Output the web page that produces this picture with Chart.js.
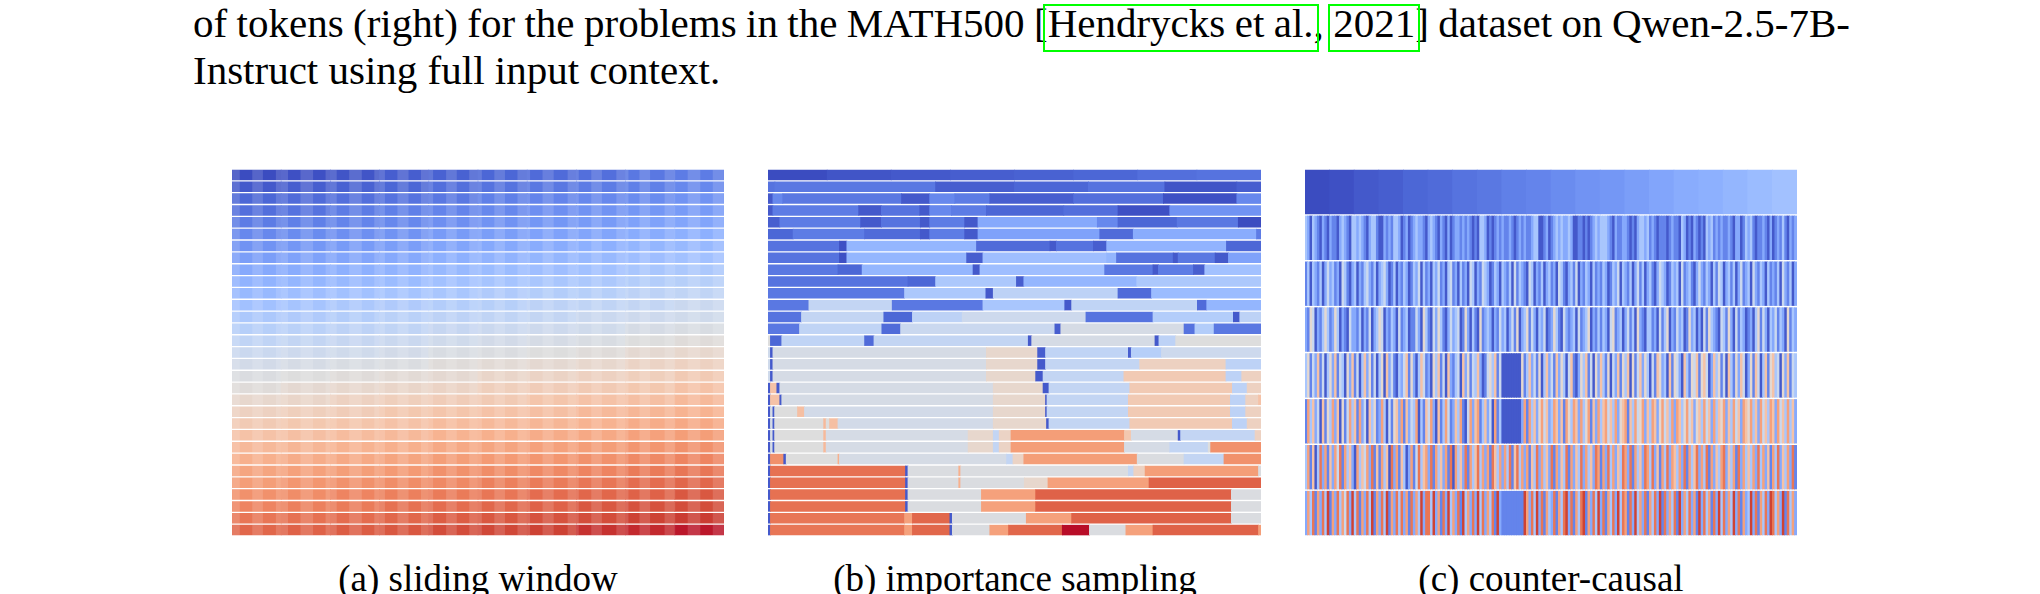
<!DOCTYPE html>
<html>
<head>
<meta charset="utf-8">
<script src="https://cdn.jsdelivr.net/npm/chart.js@4.4.1/dist/chart.umd.min.js"></script>
<style>
html, body { margin: 0; padding: 0; background: #fff; }
body { width: 2040px; height: 594px; position: relative; overflow: hidden;
       font-family: "Liberation Serif", "Times New Roman", serif; color: #000; }
.txt { position: absolute; white-space: nowrap; line-height: 1; }
.body { left: 193px; font-size: 41px; }
.cap { font-size: 37px; transform: translateX(-50%); }
.box { position: absolute; border: 2px solid #00ff00; box-sizing: border-box; }
canvas { position: absolute; }
</style>
</head>
<body>

<div class="txt body" id="line1" style="top:2.7px">of tokens (right) for the problems in the MATH500 [<span class="cite">Hendrycks et al.</span>, <span class="cite">2021</span>] dataset on Qwen-2.5-7B-</div>
<div class="txt body" style="top:49.7px">Instruct using full input context.</div>

<canvas id="sliding" width="492" height="367" style="left:232px;top:169px"></canvas>
<canvas id="importance" width="493" height="367" style="left:768px;top:169px"></canvas>
<canvas id="counter" width="492" height="367" style="left:1305px;top:169px"></canvas>

<div class="txt cap" style="left:478px;top:560px">(a) sliding window</div>
<div class="txt cap" style="left:1015px;top:560px">(b) importance sampling</div>
<div class="txt cap" style="left:1551px;top:560px">(c) counter-causal</div>

<script>
// values are positions on the coolwarm colormap, 0 (blue) .. 100 (red)

// (a) sliding window: 31 rows, equal-width columns
const slidingRows = [
  [0,1,2,4,5,6,7,8,10,11],
  [3,4,5,6,8,9,10,11,12,14],
  [6,7,8,9,10,12,13,14,15,17],
  [8,9,11,12,13,14,16,17,18,19],
  [11,12,13,14,16,17,18,19,21,22],
  [14,15,16,17,19,20,21,22,24,25],
  [17,18,19,20,22,23,24,25,27,28],
  [20,21,22,23,25,26,27,28,30,31],
  [23,24,25,26,28,29,30,31,33,34],
  [26,27,28,29,31,32,33,34,36,37],
  [28,30,31,32,33,35,36,37,39,40],
  [31,32,34,35,36,37,39,40,41,43],
  [34,35,36,38,39,40,41,43,44,45],
  [37,38,39,40,42,43,44,45,47,48],
  [40,41,42,43,45,46,47,48,50,51],
  [43,44,45,46,48,49,50,51,53,54],
  [46,47,48,49,51,52,53,54,56,57],
  [49,50,51,52,53,55,56,57,58,60],
  [51,53,54,55,56,58,59,60,61,63],
  [54,55,57,58,59,60,62,63,64,66],
  [57,58,59,61,62,63,64,66,67,68],
  [60,61,62,63,65,66,67,68,70,71],
  [63,64,65,66,68,69,70,71,73,74],
  [66,67,68,69,71,72,73,74,76,77],
  [69,70,71,72,74,75,76,77,79,80],
  [72,73,74,75,77,78,79,80,82,83],
  [74,76,77,78,79,81,82,83,85,86],
  [77,78,80,81,82,83,85,86,87,89],
  [80,81,82,84,85,86,87,89,90,91],
  [83,84,85,86,88,89,90,91,93,94],
  [86,87,88,89,91,92,93,95,96,98]
];

// (a) lighter token-column bands seen in every row, [start, end] in % of width
const slidingStripeGroups = [
  [0.1,1.5],[4.2,6.2],[9.0,11.3],[14.0,16.4],[19.1,21.2],[23.9,26.3],[29.0,31.0],
  [33.7,35.8],[38.5,40.8],[43.6,45.6],[48.3,50.7],[53.4,55.4],[58.1,60.5],[63.2,65.3],
  [68.3,70.4],[73.1,75.1],[78.2,80.5],[82.9,84.9],[88.0,90.0],[92.7,95.1],[97.8,99.9]
];

// (b) importance sampling: 31 rows of [segment end (% of width), value]
const importanceRows = [
  [[12,0],[25,2],[37,3],[50,4],[62,5],[75,6],[87,8],[100,9]],
  [[1.4,9],[34,10],[50,4],[65,6],[80.5,9],[95.1,2],[100,4]],
  [[1,3],[3,14],[27.1,10],[32.8,3],[37.9,14],[45,11],[62,4],[80.2,8],[95.1,1],[100,14]],
  [[1,3],[18.4,11],[23,3],[30.8,9],[32.8,3],[37.2,14],[44.3,11],[60,6],[71,8],[81.5,1],[100,17]],
  [[2.4,4],[18.8,11],[23,3],[30.9,9],[32.8,3],[39.9,11],[42.6,3],[66.8,23],[71,14],[83,6],[95.4,10],[100,0]],
  [[5.1,6],[19.6,11],[30.9,7],[32.8,3],[39.9,11],[42.6,3],[67.3,21],[74.1,7],[99.1,24],[100,11]],
  [[14.5,9],[16,1],[42.3,27],[57.2,7],[58.5,3],[66,9],[68.7,4],[93,26],[100,6]],
  [[14.5,9],[16,1],[40.3,27],[43.6,4],[68.7,30],[70.7,27],[82.2,9],[83.2,3],[90.7,10],[93.4,3],[100,21]],
  [[14.2,10],[19.1,6],[41.6,27],[43,3],[68.3,30],[78.1,10],[79.2,3],[86.3,11],[88.6,4],[100,31]],
  [[28.4,9],[34,6],[50.4,34],[51.9,4],[74.8,27],[100,34]],
  [[27.7,10],[44.2,34],[45.7,3],[71,39],[77.8,7],[100,29]],
  [[8.3,10],[25.2,41],[43.6,10],[60.2,33],[61.6,3],[87.1,40],[89,7],[100,27]],
  [[6.8,9],[23.5,41],[29.3,6],[39.4,39],[64.5,44],[78.1,9],[94.4,36],[95.7,3],[100,39]],
  [[6.4,10],[23.1,40],[26.9,7],[58.2,43],[59.4,4],[84.4,47],[86.6,9],[90.5,36],[100,10]],
  [[0.5,50],[2.8,6],[19.6,40],[21.5,7],[52.8,41],[53.5,3],[78.5,47],[79.3,3],[82.7,39],[100,50]],
  [[0.5,45],[1,3],[44.3,47],[54.7,54],[56.3,4],[73.1,40],[73.7,4],[79.8,37],[100,44]],
  [[0.5,45],[1,3],[44.3,47],[54.7,54],[56.3,3],[75.4,41],[92.9,57],[100,39]],
  [[0.5,45],[1,3],[44.3,47],[54.3,54],[55.8,3],[72.2,41],[92.9,60],[96.1,39],[100,57]],
  [[0.5,3],[1.8,63],[2.4,3],[45.7,47],[55.8,54],[57,3],[73.4,41],[94.2,60],[97.2,39],[100,57]],
  [[0.5,3],[2.4,63],[2.8,3],[45.7,47],[56.3,54],[56.6,3],[73.1,41],[93.8,60],[96.9,39],[99.5,57],[100,63]],
  [[0.5,3],[1,47],[1.35,3],[6,50],[7.4,64],[45.7,46],[56.3,54],[56.6,3],[73.1,41],[93.8,60],[96.9,39],[100,57]],
  [[0.5,3],[1,47],[1.35,3],[11.3,50],[11.8,66],[12.5,50],[14.2,64],[45.7,46],[56.5,54],[57,3],[73.4,41],[94.2,60],[97.2,39],[100,57]],
  [[0.5,3],[1,47],[1.35,3],[11.3,50],[11.8,66],[40.6,47],[45.7,54],[46.9,41],[49.3,56],[72.3,74],[73.7,61],[83.2,47],[83.7,3],[98.8,41],[100,57]],
  [[0.5,3],[1,47],[1.35,3],[11.3,50],[11.8,66],[40.6,47],[45.7,54],[46.9,41],[49.3,56],[72.3,74],[81.5,47],[89.3,41],[89.8,50],[100,77]],
  [[0.5,3],[3.2,77],[3.7,3],[14.2,50],[14.5,69],[48.4,47],[49.7,41],[51.9,56],[74.9,74],[84.4,49],[92.5,41],[100,77]],
  [[0.5,3],[27.9,84],[28.4,3],[38.7,49],[39.1,69],[73.1,49],[74.2,41],[76.5,57],[99.5,74],[100,49]],
  [[0.5,3],[27.9,84],[28.4,3],[38.7,49],[39.1,69],[52,49],[56.8,54],[77.3,73],[100,87]],
  [[0.5,3],[27.9,84],[28.4,3],[43.3,49],[54.3,73],[94,87],[100,49]],
  [[0.5,3],[27.9,84],[28.4,3],[43.3,49],[54.3,73],[94,87],[100,49]],
  [[0.5,3],[27.7,83],[29.3,73],[36.9,86],[37.4,3],[52.4,49],[61.6,73],[94,87],[100,49]],
  [[0.5,3],[27.7,83],[29.3,73],[36.9,86],[37.4,3],[45,49],[48.8,73],[59.7,86],[65.2,99],[72.6,49],[78.1,73],[99.5,87],[100,74]]
];

// (c) counter-causal: first row, equal-width columns
const counterTop = [0,1,3,4,6,7,9,10,12,13,15,17,18,20,22,24,25,27,29,31];

// (c) remaining rows: one digit per column, digit d -> value d*10+3
const counterRows = [
  "3203210210 2110232103 3232102331 0021213320 1201232210 2321021020 1221212101 0332010121 2112101212 1123300120" +
  "1232322320 0110101232 3332102112 2101023323 1210111012 1103201021 0103231212 1121022013 2310112102 0121310212",
  "1303213024 2312043102 3021342130 2342013021 3201324031 2032412034 1203120430 2143201320 3213041321 0430213023" +
  "1204310231 4021320312 1320132403 2130241302 3102432013 2304123102 4213203143 0231302412 3042132031 2130421302",
  "2154021353 1253021042 2130214023 5402132041 2301142053 1042531024 2340152031 0512320214 2302415023 5142032401" +
  "2531042123 0412350213 1320451230 2413052103 3120413502 1423015230 2041532104 3152041320 1203514203 2413205132",
  "3514261403 5261430526 1403625140 3506241032 4615203641 2053614062 1340625143 6201453614 0000000051 3624150362" +
  "4162530461 0253614052 6315042615 3605146253 0416523061 5420631546 1564026351 4063152640 2516403615 6340526143",
  "1736240615 3726051473 6172406351 2730415627 1624370316 4720613741 2637104726 7136240713 0000000027 1736257462" +
  "3762617537 6273571627 3674637256 7163745726 3762574637 2763574625 6374627365 7263746276 5736274637 6274637362",
  "3716038271 6274817362 0736472816 1736082716 3027148367 2817362718 0736281736 8372718637 2738168372 7163827362" +
  "8172638172 6382736287 1728372638 7281736287 3826173827 6372817368 2738172637 8263718273 6372837261 7382637281",
  "2738172839 1728374829 3817283917 2839172838 2718273928 8392718293 7281937282 9382738192 1111111119 7283928173" +
  "2817389281 7389172839 2817382938 7182937281 7382918273 8192738271 9283718293 8273928172 3928173829 8372918372"
];

const coolwarmStops = [
  [59,76,192],[77,104,215],[98,130,234],[119,154,247],[141,176,254],[163,194,255],
  [184,208,249],[204,217,238],[221,221,221],[236,211,196],[245,196,169],[247,177,142],
  [244,154,116],[236,127,92],[222,96,70],[203,62,50],[180,4,38]
];

function coolwarm(v) {
  v = Math.max(0, Math.min(1, v));
  const p = v * (coolwarmStops.length - 1);
  const i = Math.min(Math.floor(p), coolwarmStops.length - 2);
  const t = p - i;
  const a = coolwarmStops[i], b = coolwarmStops[i + 1];
  const c = a.map((x, k) => Math.round(x + (b[k] - x) * t));
  return 'rgb(' + c.join(',') + ')';
}

function evenSegments(values) {
  const w = 100 / values.length;
  return values.map((v, i) => [(i + 1) * w, v]);
}

function drawPanel(id, rows, barPct, overlay) {
  const labels = rows.map((_, i) => 'row' + (i + 1));
  const data = [];
  const colors = [];
  rows.forEach((segs, i) => {
    let start = 0;
    segs.forEach(([end, v]) => {
      data.push({x: [start, end], y: labels[i]});
      colors.push(coolwarm(v / 100));
      start = end;
    });
  });

  const common = {
    borderWidth: 0,
    borderSkipped: false,
    barPercentage: barPct,
    categoryPercentage: 1,
    grouped: false
  };
  const datasets = [Object.assign({data: data, backgroundColor: colors, inflateAmount: 0.4, order: 2}, common)];

  if (overlay) {
    const stripes = [];
    labels.forEach(lab => overlay.forEach(([s, e]) => stripes.push({x: [s, e], y: lab})));
    datasets.push(Object.assign({data: stripes, backgroundColor: 'rgba(255,255,255,0.14)', inflateAmount: 0.4, order: 1}, common));
  }

  new Chart(document.getElementById(id), {
    type: 'bar',
    data: {labels: labels, datasets: datasets},
    options: {
      indexAxis: 'y',
      responsive: false,
      animation: false,
      devicePixelRatio: 1,
      layout: {padding: 0},
      scales: {
        x: {type: 'linear', min: 0, max: 100, display: false},
        y: {type: 'category', display: false}
      },
      plugins: {
        legend: {display: false},
        tooltip: {enabled: false}
      }
    }
  });
}

drawPanel('sliding', slidingRows.map(evenSegments), 0.82, slidingStripeGroups);
drawPanel('importance', importanceRows, 0.82);

const counterAll = [evenSegments(counterTop)].concat(
  counterRows.map(s => evenSegments(s.replace(/\s/g, '').split('').map(d => +d * 10 + 3)))
);
drawPanel('counter', counterAll, 0.95);

// stretch the first line to the text block width and frame the citations
document.fonts.ready.then(function () {
  const line = document.getElementById('line1');
  const target = 1850 - 193;
  const natural = line.getBoundingClientRect().width;
  const gaps = line.textContent.split(' ').length - 1;
  line.style.wordSpacing = ((target - natural) / gaps) + 'px';
  document.querySelectorAll('.cite').forEach(function (el) {
    const r = el.getBoundingClientRect();
    const b = document.createElement('div');
    b.className = 'box';
    b.style.left = (r.left - 5) + 'px';
    b.style.width = (r.width + 10) + 'px';
    b.style.top = '4px';
    b.style.height = '48px';
    document.body.appendChild(b);
  });
});
</script>
</body>
</html>
